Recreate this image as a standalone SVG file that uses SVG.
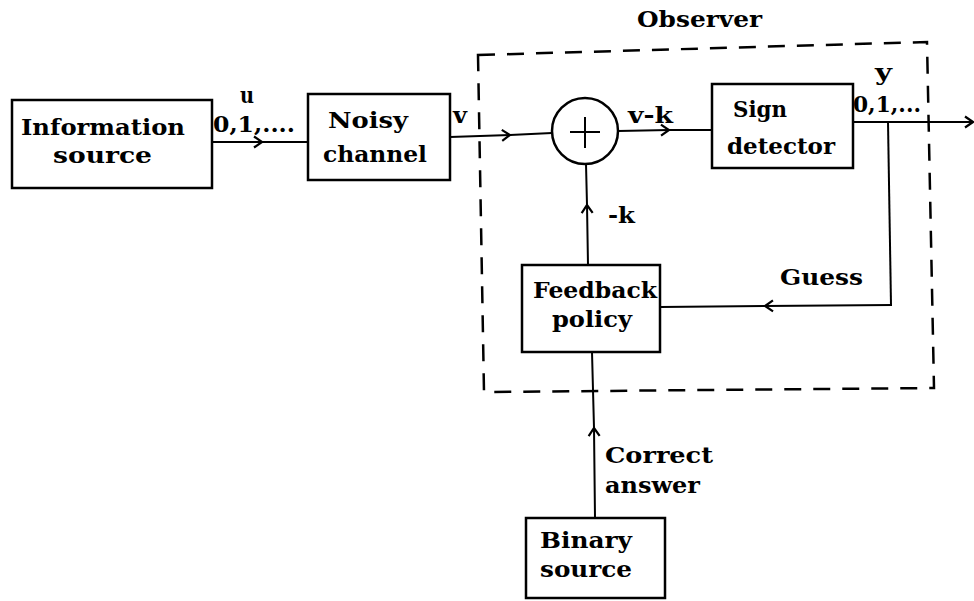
<svg xmlns="http://www.w3.org/2000/svg" width="974" height="601" viewBox="0 0 974 601">
<style>
  .box { fill: none; stroke: #000; stroke-width: 2.5; }
  .ln { fill: none; stroke: #000; stroke-width: 2; }
  .t { font-family: "DejaVu Serif", "Liberation Serif", serif; font-weight: bold; font-size: 22px; fill: #000; }
  .dash { fill: none; stroke: #000; stroke-width: 2.5; stroke-dasharray: 17 12; }
</style>
<defs>
  <marker id="chev" markerWidth="14" markerHeight="14" refX="10" refY="7" orient="auto" markerUnits="userSpaceOnUse">
    <path d="M2,1.5 L10,7 L2,12.5" fill="none" stroke="#000" stroke-width="2.2"/>
  </marker>
</defs>
<rect width="974" height="601" fill="#fff"/>

<g id="observer">
  <path class="dash" d="M478,55 L927,42 L934,388 L484,392 Z"/>
  <text class="t" x="637" y="27" textLength="125" lengthAdjust="spacingAndGlyphs">Observer</text>
</g>

<g id="info-source">
  <rect class="box" x="12" y="100" width="200" height="88"/>
  <text class="t" x="21" y="135" textLength="164" lengthAdjust="spacingAndGlyphs">Information</text>
  <text class="t" x="53" y="163" textLength="99" lengthAdjust="spacingAndGlyphs">source</text>
</g>

<g id="noisy-channel">
  <rect class="box" x="308" y="94" width="142" height="86"/>
  <text class="t" x="328" y="128" textLength="80" lengthAdjust="spacingAndGlyphs">Noisy</text>
  <text class="t" x="323" y="162" textLength="104" lengthAdjust="spacingAndGlyphs">channel</text>
</g>

<g id="summer">
  <circle class="box" cx="585" cy="131" r="33"/>
  <path class="ln" d="M570,132 L600,132 M585,117 L585,148" stroke-width="2.5"/>
</g>

<g id="sign-detector">
  <rect class="box" x="712" y="84" width="141" height="84"/>
  <text class="t" x="733" y="117" textLength="54" lengthAdjust="spacingAndGlyphs">Sign</text>
  <text class="t" x="727" y="154" textLength="108" lengthAdjust="spacingAndGlyphs">detector</text>
</g>

<g id="feedback-policy">
  <rect class="box" x="522" y="265" width="138" height="87"/>
  <text class="t" x="533" y="298" textLength="124" lengthAdjust="spacingAndGlyphs">Feedback</text>
  <text class="t" x="552" y="327" textLength="80" lengthAdjust="spacingAndGlyphs">policy</text>
</g>

<g id="binary-source">
  <rect class="box" x="526" y="518" width="139" height="80"/>
  <text class="t" x="540" y="548" textLength="92" lengthAdjust="spacingAndGlyphs">Binary</text>
  <text class="t" x="540" y="577" textLength="92" lengthAdjust="spacingAndGlyphs">source</text>
</g>

<g id="connectors">
  <path class="ln" d="M212,142 L262,142 L308,142" marker-mid="url(#chev)"/>
  <path class="ln" d="M450,137 L510,135 L552,133" marker-mid="url(#chev)"/>
  <path class="ln" d="M618,131 L669,130 L712,130" marker-mid="url(#chev)"/>
  <path class="ln" d="M853,122 L973,122" marker-end="url(#chev)"/>
  <path class="ln" d="M888,122 L891,305"/>
  <path class="ln" d="M892,305 L765,306 L660,307" marker-mid="url(#chev)"/>
  <path class="ln" d="M588,265 L587,205 L586,164" marker-mid="url(#chev)"/>
  <path class="ln" d="M595,518 L594,428 L592,352" marker-mid="url(#chev)"/>
</g>

<g id="labels">
  <text class="t" x="240" y="103" textLength="14" lengthAdjust="spacingAndGlyphs">u</text>
  <text class="t" x="213" y="132" textLength="82" lengthAdjust="spacingAndGlyphs">0,1,....</text>
  <text class="t" x="453" y="123" textLength="14" lengthAdjust="spacingAndGlyphs">v</text>
  <text class="t" x="628" y="123" textLength="45" lengthAdjust="spacingAndGlyphs">v-k</text>
  <text class="t" x="875" y="80" textLength="17" lengthAdjust="spacingAndGlyphs">y</text>
  <text class="t" x="853" y="112" textLength="68" lengthAdjust="spacingAndGlyphs">0,1,...</text>
  <text class="t" x="608" y="223" textLength="27" lengthAdjust="spacingAndGlyphs">-k</text>
  <text class="t" x="780" y="285" textLength="83" lengthAdjust="spacingAndGlyphs">Guess</text>
  <text class="t" x="605" y="463" textLength="108" lengthAdjust="spacingAndGlyphs">Correct</text>
  <text class="t" x="605" y="493" textLength="95" lengthAdjust="spacingAndGlyphs">answer</text>
</g>
</svg>
